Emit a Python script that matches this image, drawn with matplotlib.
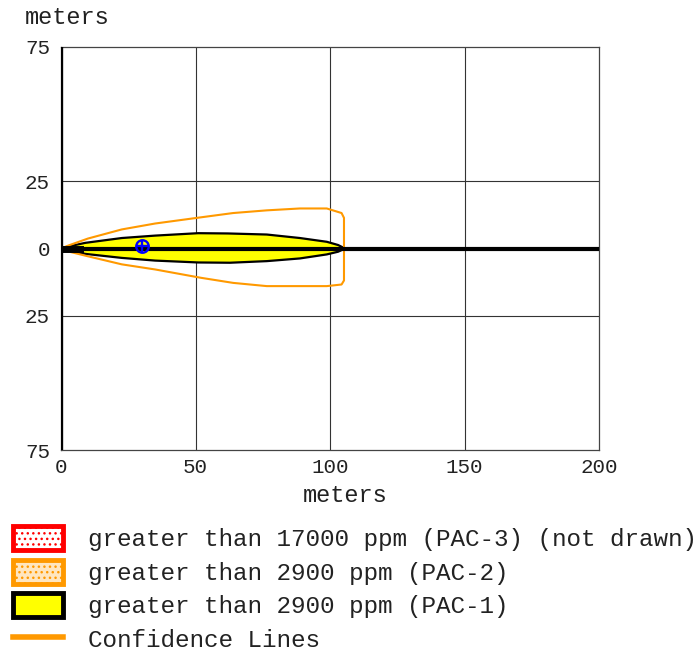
import matplotlib.pyplot as plt
from matplotlib.patches import Patch, Polygon
from matplotlib.lines import Line2D

plt.rcParams["font.family"] = ["Liberation Mono", "DejaVu Sans Mono"]

# threat zone outlines, meters downwind (x) and crosswind (y)
pac1_top_x = [0, 3, 9, 22.6, 35, 51, 62, 76.5, 88.8, 98.8, 103, 105.6]
pac1_top_y = [0, 0.8, 2.1, 3.9, 4.8, 5.7, 5.6, 5.2, 3.9, 2.5, 1.3, 0]
pac1_bot_x = [105.6, 103, 98.8, 88.8, 76.5, 62.8, 51, 35, 22.6, 9, 3, 0]
pac1_bot_y = [0, -1.2, -2.2, -3.7, -4.7, -5.3, -5.2, -4.5, -3.5, -2.0, -0.8, 0]

conf_x = [0, 2.7, 10, 22.6, 35, 52, 64, 76.5, 88.8, 98.8, 104.3, 105.2,
          105.2, 104.3, 98.8, 88.8, 76.5, 64, 52, 35, 22.6, 10, 2.7, 0]
conf_y = [0, 1.1, 3.7, 7.1, 9.3, 11.6, 13.2, 14.2, 14.9, 14.9, 13.2, 11.4,
          -11.9, -13.4, -14.0, -14.0, -14.0, -12.8, -10.9, -7.8, -5.9, -2.9, -1.1, 0]

source_x, source_y = 30, 0.85

x_ticks = [0, 50, 100, 150, 200]
y_ticks = [75, 25, 0, -25, -75]

legend_labels = [
    "greater than 17000 ppm (PAC-3) (not drawn)",
    "greater than 2900 ppm (PAC-2)",
    "greater than 2900 ppm (PAC-1)",
    "Confidence Lines",
]

orange = "#FF9900"
txt = "#222222"

fig = plt.figure(figsize=(7, 6.54), dpi=100)
ax = fig.add_axes([61 / 700, 1 - 450 / 654, 538 / 700, 403 / 654])

ax.set_xlim(0, 200)
ax.set_ylim(-75, 75)

# grid
for gx in [50, 100, 150]:
    ax.axvline(gx, color="#333333", lw=0.8, zorder=1)
for gy in [25, -25]:
    ax.axhline(gy, color="#333333", lw=0.8, zorder=1)

# PAC-1 zone
pac1 = list(zip(pac1_top_x + pac1_bot_x, pac1_top_y + pac1_bot_y))
ax.add_patch(Polygon(pac1, closed=True, facecolor="#FFFF00",
                     edgecolor="black", lw=1.6, zorder=3))

# confidence lines
ax.plot(conf_x, conf_y, color=orange, lw=1.5, zorder=4)

# downwind centerline and axis line
ax.plot([0, 200], [0, 0], color="black", lw=3, zorder=5, solid_capstyle="butt")
ax.axvline(0, color="black", lw=2.4, zorder=6)
ax.plot([0, 7], [0, 0], color="black", lw=5, zorder=5)

# source marker
ax.plot(source_x, source_y, marker="o", ms=9, mfc="none", mec="#0000FF",
        mew=1.7, zorder=7)
ax.plot(source_x, source_y, marker="+", ms=9, mec="#0000FF", mew=1.7, zorder=7)

for s in ax.spines.values():
    s.set_color("#444444")
    s.set_linewidth(0.9)

ax.set_xticks(x_ticks)
ax.set_xticklabels([str(v) for v in x_ticks])
ax.set_yticks(y_ticks)
ax.set_yticklabels([str(abs(v)) for v in y_ticks])
ax.tick_params(length=0, labelsize=15, labelcolor=txt)
ax.tick_params(axis="x", pad=6)
ax.tick_params(axis="y", pad=8)

fig.text(25 / 700, 1 - 18 / 654, "meters", fontsize=17, color=txt,
         ha="left", va="center")
fig.text(345 / 700, 1 - 496 / 654, "meters", fontsize=17, color=txt,
         ha="center", va="center")

handles = [
    Patch(facecolor="white", edgecolor="#FF0000", lw=3.5, hatch="..."),
    Patch(facecolor="#FFE6C0", edgecolor=orange, lw=3.5, hatch="..."),
    Patch(facecolor="#FFFF00", edgecolor="black", lw=3.5),
    Line2D([], [], color=orange, lw=4),
]
fig.legend(handles, legend_labels, loc="upper left",
           bbox_to_anchor=(13 / 700, 1 - 526 / 654), frameon=False,
           borderpad=0, borderaxespad=0,
           fontsize=17.5, handlelength=2.05, handleheight=1.15,
           labelspacing=0.34, handletextpad=1.05, labelcolor=txt)

fig.savefig("out.png", dpi=100)
